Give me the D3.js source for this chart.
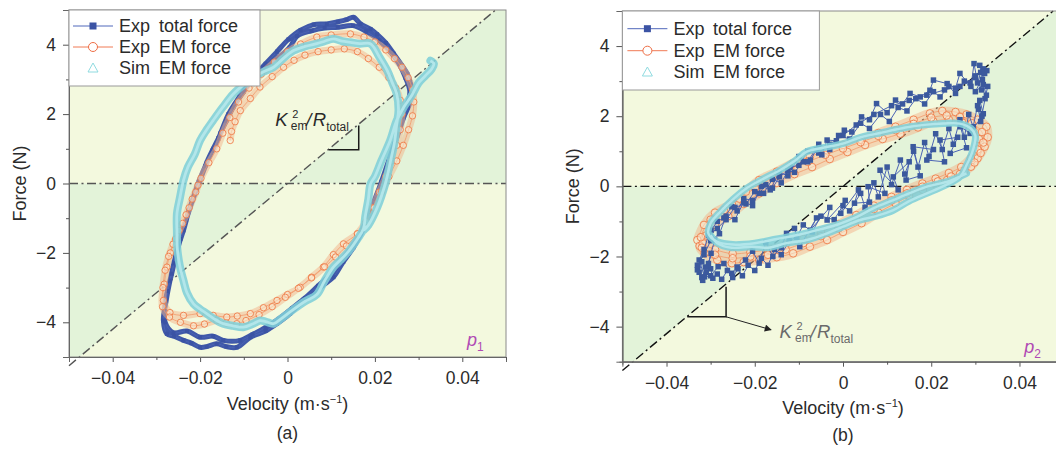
<!DOCTYPE html>
<html><head><meta charset="utf-8">
<script src="https://cdn.jsdelivr.net/npm/d3@7"></script>
<style>body{margin:0;background:#fff}svg{display:block;font-family:"Liberation Sans",Arial,sans-serif}</style>
</head><body><svg id="c" width="1056" height="450"></svg>
<script>
// ---------- data ----------
const xTicks=[-0.04,-0.02,0,0.02,0.04];
const xMinor=[-0.03,-0.01,0.01,0.03,0.05];
const yTicks=[-4,-2,0,2,4];
const yMinor=[-3,-1,1,3];
const seriesNames=["Exp","total force","Exp","EM force","Sim","EM force"];
const slopeKR=105; // slope of the K_em^2/R_total reference line (N per m/s)

// panel (a) : Exp total force [velocity, force]
const totalA=[[-0.0154,1.44],[-0.0140,1.80],[-0.0124,2.20],[-0.0100,2.65],[-0.0078,3.06],[-0.0050,3.45],[-0.0024,3.80],[0.0002,4.15],[0.0030,4.42],[0.0060,4.58],[0.0090,4.60],[0.0115,4.66],[0.0135,4.72],[0.0151,4.79],[0.0167,4.60],[0.0190,4.45],[0.0205,4.30],[0.0225,4.05],[0.0243,3.74],[0.0262,3.40],[0.0274,3.16],[0.0282,2.85],[0.0285,2.58],[0.0278,2.25],[0.0266,1.91],[0.0255,1.50],[0.0243,1.05],[0.0228,0.50],[0.0212,-0.10],[0.0197,-0.60],[0.0182,-1.07],[0.0168,-1.45],[0.0151,-1.84],[0.0128,-2.25],[0.0105,-2.70],[0.0080,-2.95],[0.0060,-3.18],[0.0030,-3.45],[0.0006,-3.75],[-0.0024,-4.04],[-0.0050,-4.25],[-0.0085,-4.43],[-0.0116,-4.72],[-0.0140,-4.70],[-0.0162,-4.62],[-0.0185,-4.70],[-0.0200,-4.72],[-0.0220,-4.60],[-0.0238,-4.52],[-0.0260,-4.40],[-0.0276,-4.33],[-0.0284,-3.95],[-0.0278,-3.40],[-0.0269,-2.80],[-0.0260,-2.30],[-0.0250,-1.80],[-0.0238,-1.35],[-0.0226,-0.80],[-0.0212,-0.30],[-0.0200,0.09],[-0.0185,0.60],[-0.0170,1.00],[-0.0158,1.30],[-0.0135,2.00],[-0.0110,2.50],[-0.0085,2.95],[-0.0055,3.35],[-0.0024,3.60],[0.0005,3.92],[0.0022,4.25],[0.0055,4.40],[0.0085,4.48],[0.0115,4.50],[0.0150,4.55],[0.0180,4.38],[0.0210,4.12],[0.0235,3.80],[0.0255,3.45],[0.0270,3.05],[0.0280,2.65],[0.0272,2.20],[0.0260,1.70],[0.0245,1.15],[0.0230,0.60],[0.0215,0.05],[0.0200,-0.45],[0.0185,-0.95],[0.0170,-1.35],[0.0150,-1.75],[0.0125,-2.20],[0.0100,-2.60],[0.0070,-2.95],[0.0040,-3.30],[0.0010,-3.60],[-0.0020,-3.90],[-0.0050,-4.15],[-0.0080,-4.35],[-0.0108,-4.52],[-0.0147,-4.52],[-0.0170,-4.40],[-0.0200,-4.43],[-0.0230,-4.25],[-0.0261,-4.30],[-0.0280,-4.00],[-0.0282,-3.60],[-0.0275,-3.10],[-0.0265,-2.60],[-0.0256,-2.10],[-0.0245,-1.60],[-0.0232,-1.05],[-0.0218,-0.50],[-0.0203,0.05],[-0.0188,0.50],[-0.0172,0.95],[-0.0158,1.30]];
// panel (a) : Exp EM force
const emA=[[-0.0131,1.24],[-0.0128,1.50],[-0.0120,1.78],[-0.0108,2.10],[-0.0085,2.45],[-0.0063,2.78],[-0.0035,3.08],[-0.0009,3.35],[0.0015,3.55],[0.0040,3.70],[0.0070,3.80],[0.0100,3.85],[0.0130,3.88],[0.0160,3.80],[0.0185,3.60],[0.0210,3.35],[0.0232,3.05],[0.0248,2.75],[0.0258,2.40],[0.0262,2.00],[0.0258,1.55],[0.0250,1.10],[0.0238,0.65],[0.0225,0.20],[0.0210,-0.25],[0.0195,-0.70],[0.0180,-1.10],[0.0160,-1.45],[0.0128,-1.74],[0.0105,-2.05],[0.0082,-2.41],[0.0055,-2.70],[0.0029,-2.99],[0.0000,-3.20],[-0.0024,-3.37],[-0.0055,-3.58],[-0.0085,-3.75],[-0.0115,-3.82],[-0.0139,-3.85],[-0.0170,-3.80],[-0.0200,-3.75],[-0.0238,-3.80],[-0.0269,-3.72],[-0.0284,-3.37],[-0.0282,-2.90],[-0.0276,-2.41],[-0.0268,-2.00],[-0.0256,-1.60],[-0.0240,-1.15],[-0.0225,-0.70],[-0.0210,-0.25],[-0.0198,0.15],[-0.0180,0.60],[-0.0162,1.00],[-0.0148,1.45],[-0.0132,1.90],[-0.0112,2.35],[-0.0088,2.75],[-0.0060,3.15],[-0.0030,3.50],[0.0000,3.80],[0.0030,4.02],[0.0067,4.22],[0.0100,4.28],[0.0144,4.31],[0.0175,4.22],[0.0200,4.08],[0.0225,3.85],[0.0245,3.60],[0.0262,3.35],[0.0276,3.05],[0.0286,2.70],[0.0289,2.35],[0.0286,1.95],[0.0277,1.55],[0.0265,1.10],[0.0250,0.65],[0.0232,0.20],[0.0215,-0.25],[0.0198,-0.70],[0.0180,-1.10],[0.0160,-1.45],[0.0135,-1.80],[0.0110,-2.12],[0.0085,-2.40],[0.0055,-2.72],[0.0025,-3.02],[-0.0005,-3.28],[-0.0035,-3.55],[-0.0065,-3.78],[-0.0095,-3.95],[-0.0116,-4.04],[-0.0140,-4.02],[-0.0162,-3.95],[-0.0190,-4.05],[-0.0215,-4.10],[-0.0245,-4.00],[-0.0270,-3.85],[-0.0286,-3.55],[-0.0285,-3.00],[-0.0280,-2.50],[-0.0272,-2.10],[-0.0262,-1.75],[-0.0248,-1.35],[-0.0232,-0.90],[-0.0218,-0.45],[-0.0205,-0.05]];
// panel (a) : Sim EM force
const simA=[[0.0327,3.54],[0.0335,3.45],[0.0330,3.30],[0.0315,3.10],[0.0300,2.90],[0.0285,2.55],[0.0266,2.20],[0.0250,1.82],[0.0235,1.24],[0.0215,0.66],[0.0200,0.20],[0.0190,-0.01],[0.0185,-0.45],[0.0178,-0.95],[0.0174,-1.30],[0.0160,-1.60],[0.0140,-1.95],[0.0120,-2.22],[0.0105,-2.41],[0.0085,-2.80],[0.0067,-3.20],[0.0040,-3.40],[0.0006,-3.70],[-0.0015,-3.90],[-0.0032,-4.04],[-0.0050,-3.98],[-0.0063,-3.95],[-0.0080,-4.05],[-0.0101,-4.14],[-0.0125,-4.10],[-0.0147,-4.04],[-0.0168,-3.90],[-0.0185,-3.75],[-0.0200,-3.62],[-0.0215,-3.47],[-0.0230,-3.15],[-0.0238,-2.80],[-0.0246,-2.40],[-0.0252,-1.90],[-0.0253,-1.40],[-0.0253,-0.87],[-0.0246,-0.40],[-0.0238,0.09],[-0.0228,0.47],[-0.0212,0.85],[-0.0200,1.24],[-0.0185,1.55],[-0.0170,1.82],[-0.0148,2.20],[-0.0124,2.58],[-0.0100,2.85],[-0.0078,3.06],[-0.0055,3.22],[-0.0032,3.35],[-0.0010,3.60],[0.0014,3.83],[0.0040,3.95],[0.0067,4.03],[0.0085,4.10],[0.0105,4.17],[0.0125,4.10],[0.0144,4.07],[0.0165,4.03],[0.0190,4.03],[0.0210,3.65],[0.0228,3.26],[0.0240,2.90],[0.0250,2.58],[0.0254,2.10],[0.0250,1.72],[0.0245,1.20],[0.0235,0.60],[0.0224,0.00],[0.0205,-0.70],[0.0185,-1.20],[0.0174,-1.35]];

// panel (b) : Exp total force
const totalB=[[-0.0330,-2.38],[-0.0320,-2.60],[-0.0305,-2.20],[-0.0299,-1.91],[-0.0310,-2.45],[-0.0291,-1.53],[-0.0299,-1.25],[-0.0285,-1.00],[-0.0270,-0.90],[-0.0252,-0.58],[-0.0240,-0.70],[-0.0225,-0.35],[-0.0205,-0.40],[-0.0190,-0.20],[-0.0175,0.05],[-0.0160,-0.05],[-0.0144,0.27],[-0.0125,0.45],[-0.0110,0.40],[-0.0090,0.70],[-0.0074,0.75],[-0.0060,1.05],[-0.0048,0.90],[-0.0036,1.32],[-0.0015,1.30],[0.0003,1.60],[0.0020,1.55],[0.0042,1.98],[0.0060,1.90],[0.0076,2.36],[0.0100,2.10],[0.0119,2.46],[0.0135,2.35],[0.0152,2.65],[0.0175,2.55],[0.0197,2.74],[0.0205,3.03],[0.0236,2.93],[0.0255,2.80],[0.0265,3.22],[0.0290,2.85],[0.0297,3.50],[0.0305,2.95],[0.0312,3.25],[0.0321,3.22],[0.0300,2.70],[0.0318,2.90],[0.0325,2.60],[0.0310,2.45],[0.0318,2.07],[0.0307,2.20],[0.0315,2.00],[0.0288,1.51],[0.0266,1.70],[0.0280,1.10],[0.0243,0.94],[0.0260,1.40],[0.0220,1.32],[0.0230,0.70],[0.0190,0.75],[0.0205,1.05],[0.0159,1.13],[0.0175,0.30],[0.0143,0.18],[0.0150,0.70],[0.0114,0.27],[0.0125,-0.10],[0.0084,0.46],[0.0095,-0.20],[0.0057,-0.01],[0.0060,-0.45],[0.0026,-0.48],[0.0035,-0.10],[-0.0005,-0.77],[0.0005,-0.40],[-0.0036,-0.96],[-0.0030,-0.60],[-0.0074,-1.25],[-0.0060,-0.90],[-0.0098,-1.72],[-0.0110,-1.20],[-0.0128,-1.34],[-0.0140,-1.75],[-0.0159,-2.00],[-0.0175,-1.60],[-0.0190,-2.19],[-0.0205,-1.85],[-0.0221,-2.10],[-0.0240,-2.30],[-0.0252,-2.48],[-0.0270,-2.20],[-0.0283,-2.29],[-0.0300,-2.55],[-0.0314,-2.58],[-0.0326,-2.10],[-0.0315,-1.80],[-0.0305,-1.40],[-0.0285,-1.20],[-0.0265,-0.95],[-0.0245,-0.60],[-0.0220,-0.50],[-0.0200,-0.15],[-0.0180,-0.20],[-0.0160,0.20],[-0.0140,0.10],[-0.0120,0.55],[-0.0100,0.60],[-0.0080,1.00],[-0.0055,0.95],[-0.0030,1.20],[0.0000,1.45],[0.0030,1.75],[0.0070,2.05],[0.0110,2.30],[0.0150,2.45],[0.0190,2.60],[0.0230,2.75],[0.0265,2.85],[0.0300,3.10],[0.0318,3.35],[0.0326,3.30],[0.0310,3.45],[0.0316,3.05],[0.0328,2.85],[0.0322,2.50],[0.0312,1.85],[0.0305,2.30],[0.0295,1.70],[0.0285,2.05],[0.0275,1.40],[0.0265,1.90],[0.0250,1.20],[0.0240,1.65],[0.0225,1.05],[0.0210,1.50],[0.0195,0.85],[0.0185,1.25],[0.0170,0.55],[0.0160,1.00],[0.0140,0.35],[0.0130,0.75],[0.0110,0.05],[0.0100,0.55],[0.0080,-0.30],[0.0070,0.10],[0.0050,-0.60],[0.0040,-0.20],[0.0015,-0.70],[0.0000,-0.55],[-0.0020,-0.95],[-0.0050,-0.85],[-0.0070,-1.30],[-0.0090,-1.10],[-0.0105,-1.45],[-0.0122,-1.55],[-0.0140,-1.95],[-0.0155,-1.80],[-0.0170,-2.25],[-0.0185,-2.05],[-0.0200,-2.40],[-0.0215,-2.25],[-0.0228,-2.55],[-0.0238,-2.35],[-0.0250,-2.60],[-0.0262,-2.40],[-0.0275,-2.65],[-0.0285,-2.50],[-0.0295,-2.62],[-0.0300,-2.35],[-0.0312,-2.30],[-0.0318,-2.68],[-0.0326,-2.45],[-0.0320,-2.15],[-0.0330,-2.25],[-0.0315,-1.95],[-0.0300,-1.55],[-0.0280,-1.35],[-0.0265,-0.85],[-0.0245,-0.95],[-0.0225,-0.45],[-0.0205,-0.55],[-0.0185,0.00],[-0.0165,-0.10],[-0.0145,0.40],[-0.0125,0.30],[-0.0100,0.85],[-0.0080,0.70],[-0.0055,1.20],[-0.0030,1.05],[-0.0010,1.45],[0.0015,1.35],[0.0040,1.80],[0.0060,1.65],[0.0085,2.05],[0.0105,1.85],[0.0125,2.25],[0.0145,2.15],[0.0165,2.50],[0.0185,2.35],[0.0205,2.70],[0.0220,2.55],[0.0240,2.85],[0.0255,2.65],[0.0275,3.00],[0.0288,2.95],[0.0300,3.15],[0.0314,2.75]];
// panel (b) : Exp EM force
const emB=[[-0.0330,-1.53],[-0.0315,-1.10],[-0.0290,-0.75],[-0.0252,-0.50],[-0.0220,-0.15],[-0.0190,0.18],[-0.0150,0.42],[-0.0113,0.66],[-0.0075,0.85],[-0.0036,1.03],[0.0000,1.18],[0.0042,1.32],[0.0080,1.52],[0.0119,1.70],[0.0160,1.90],[0.0197,2.08],[0.0225,2.15],[0.0255,2.12],[0.0280,2.05],[0.0305,1.90],[0.0325,1.70],[0.0328,1.40],[0.0321,1.13],[0.0305,0.80],[0.0290,0.56],[0.0265,0.35],[0.0236,0.18],[0.0210,0.05],[0.0181,-0.10],[0.0150,-0.28],[0.0119,-0.48],[0.0080,-0.75],[0.0042,-1.05],[0.0000,-1.30],[-0.0036,-1.53],[-0.0075,-1.72],[-0.0113,-1.91],[-0.0150,-2.02],[-0.0190,-2.10],[-0.0225,-2.16],[-0.0252,-2.19],[-0.0285,-2.10],[-0.0314,-1.91],[-0.0325,-1.70],[-0.0310,-1.40],[-0.0290,-1.10],[-0.0260,-0.85],[-0.0225,-0.50],[-0.0190,-0.20],[-0.0150,0.10],[-0.0110,0.35],[-0.0070,0.55],[-0.0030,0.78],[0.0010,0.98],[0.0050,1.18],[0.0090,1.35],[0.0130,1.50],[0.0170,1.68],[0.0205,1.85],[0.0240,1.90],[0.0270,1.82],[0.0295,1.62],[0.0308,1.35],[0.0305,1.05],[0.0290,0.80],[0.0268,0.55],[0.0240,0.38],[0.0210,0.22],[0.0180,0.08],[0.0145,-0.10],[0.0110,-0.30],[0.0070,-0.55],[0.0030,-0.82],[-0.0010,-1.08],[-0.0050,-1.30],[-0.0090,-1.50],[-0.0130,-1.66],[-0.0170,-1.80],[-0.0210,-1.88],[-0.0250,-1.92],[-0.0290,-1.80],[-0.0318,-1.62],[-0.0322,-1.45],[-0.0300,-0.95],[-0.0270,-0.68],[-0.0235,-0.35],[-0.0200,-0.05],[-0.0160,0.25],[-0.0120,0.50],[-0.0080,0.70],[-0.0040,0.90],[0.0000,1.08],[0.0040,1.26],[0.0080,1.44],[0.0120,1.60],[0.0160,1.78],[0.0200,1.96],[0.0235,2.02],[0.0265,1.98],[0.0292,1.80],[0.0315,1.55],[0.0318,1.25],[0.0312,0.95],[0.0298,0.68],[0.0275,0.45],[0.0245,0.28],[0.0215,0.14],[0.0180,-0.01],[0.0145,-0.20],[0.0110,-0.40],[0.0070,-0.65],[0.0030,-0.95],[-0.0010,-1.20],[-0.0050,-1.42],[-0.0090,-1.62],[-0.0130,-1.80],[-0.0170,-1.95],[-0.0210,-2.00],[-0.0250,-2.05],[-0.0290,-1.95],[-0.0320,-1.75]];
// panel (b) : Sim EM force
const simB=[[0.0280,0.37],[0.0240,0.15],[0.0190,-0.01],[0.0150,-0.20],[0.0114,-0.39],[0.0070,-0.62],[0.0030,-0.88],[-0.0010,-1.08],[-0.0050,-1.22],[-0.0100,-1.38],[-0.0150,-1.50],[-0.0200,-1.62],[-0.0250,-1.66],[-0.0285,-1.58],[-0.0305,-1.35],[-0.0300,-1.05],[-0.0280,-0.75],[-0.0250,-0.38],[-0.0218,-0.05],[-0.0180,0.22],[-0.0143,0.46],[-0.0110,0.72],[-0.0082,0.99],[-0.0045,1.10],[0.0000,1.22],[0.0040,1.40],[0.0084,1.52],[0.0120,1.62],[0.0152,1.70],[0.0190,1.76],[0.0227,1.79],[0.0265,1.79],[0.0290,1.65],[0.0300,1.45],[0.0298,1.20],[0.0292,0.94],[0.0280,0.60],[0.0265,0.27],[0.0230,0.02],[0.0190,-0.20],[0.0150,-0.42],[0.0114,-0.68],[0.0075,-0.85],[0.0039,-0.96],[0.0000,-1.15],[-0.0036,-1.34],[-0.0082,-1.53],[-0.0128,-1.62],[-0.0170,-1.75],[-0.0206,-1.72],[-0.0252,-1.75],[-0.0285,-1.62],[-0.0300,-1.40]];

// annotation anchors (data units)
const triA={v0:0.0094,v1:0.0163,f0:0.97,f1:1.67,label:[-0.0028,1.67]};
const triB={v0:-0.0353,v1:-0.0265,f0:-3.72,f1:-2.86,arrowEnd:[-0.0163,-4.09],label:[-0.0144,-4.33]};

// ---------- layout ----------
const svg=d3.select("#c");
svg.append("rect").attr("width",1056).attr("height",450).attr("fill","#fff");
const defs=svg.append("defs");
defs.append("marker").attr("id","arr").attr("viewBox","0 0 10 10").attr("refX",9).attr("refY",5)
  .attr("markerWidth",9).attr("markerHeight",7).attr("orient","auto").attr("markerUnits","userSpaceOnUse")
  .append("path").attr("d","M0,0L10,5L0,10z").attr("fill","#222");

const panels=[
 {id:"a",x0:69,x1:506,y0:10,y1:357,total:totalA,em:emA,sim:simA,tri:triA,p:"1",cap:"(a)",
  fLab:20,vLabY:410,capY:439,lineCol:"#555",kCol:"#2a2a2a",leg:{w:191,h:76,rows:[16,37,58],sym:[4,44],txt:50,txt2:90},
  blueBand:5,sqSize:4,circR:3.2,orangeBand:7,simW:8,curve:true},
 {id:"b",x0:622.4,x1:1063.6,y0:11,y1:361.7,total:totalB,em:emB,sim:simB,tri:triB,p:"2",cap:"(b)",
  fLab:573,vLabY:414,capY:441,lineCol:"#111",kCol:"#6a6a6a",leg:{w:197,h:79,rows:[17.7,39.7,61],sym:[5,45],txt:51,txt2:90.5},
  blueBand:0,sqSize:5.5,circR:3.8,orangeBand:9,simW:7,curve:false}
];

const fmtX=d=>d===0?"0":d3.format(".2f")(d);
const fmtY=d3.format("d");

panels.forEach(P=>{
 const x=d3.scaleLinear().domain([-0.05,0.05]).range([P.x0,P.x1]);
 const y=d3.scaleLinear().domain([-5,5]).range([P.y1,P.y0]);
 const g=svg.append("g");
 const W=P.x1-P.x0,H=P.y1-P.y0;
 defs.append("clipPath").attr("id","clip"+P.id).append("rect").attr("x",P.x0).attr("y",P.y0).attr("width",W).attr("height",H);
 // background regions
 g.append("rect").attr("x",P.x0).attr("y",P.y0).attr("width",W).attr("height",H).attr("fill","#f3f9de");
 const vTop=5/slopeKR;
 const poly=d3.line().x(d=>x(d[0])).y(d=>y(d[1]));
 const bg=g.append("g").attr("clip-path",`url(#clip${P.id})`);
 bg.append("path").attr("d",poly([[0,0],[vTop,5],[0.05,5],[0.05,0]])+"Z").attr("fill","#e3f3d9");
 bg.append("path").attr("d",poly([[0,0],[-0.05,0],[-0.05,-5],[-vTop,-5]])+"Z").attr("fill","#e3f3d9");
 // reference lines
 g.append("line").attr("x1",x(-0.05)).attr("x2",Math.min(x(0.05),1056)).attr("y1",y(0)).attr("y2",y(0))
  .attr("stroke",P.lineCol).attr("stroke-width",1.4).attr("stroke-dasharray","9,3.5,2,3.5");
 g.append("line").attr("x1",x(-0.05)).attr("y1",y(-0.05*slopeKR)).attr("x2",x(vTop)).attr("y2",y(5))
  .attr("stroke",P.lineCol).attr("stroke-width",1.4).attr("stroke-dasharray","9,3.5,2,3.5");

 const m=g.append("g").attr("clip-path",`url(#clip${P.id})`);
 const ln=d3.line().x(d=>x(d[0])).y(d=>y(d[1]));
 const lnC=d3.line().x(d=>x(d[0])).y(d=>y(d[1])).curve(d3.curveCatmullRom);
 const drawOrange=()=>{
  m.append("path").attr("d",lnC(P.em)).attr("fill","none").attr("stroke","#f4b48a").attr("stroke-width",P.orangeBand).attr("stroke-opacity",0.5).attr("stroke-linejoin","round");
  m.append("path").attr("d",lnC(P.em)).attr("fill","none").attr("stroke","#f29a6c").attr("stroke-width",0.8);
  m.selectAll(".ci").data(P.em).join("circle").attr("cx",d=>x(d[0])).attr("cy",d=>y(d[1])).attr("r",P.circR)
   .attr("fill","#fbf0da").attr("fill-opacity",0.5).attr("stroke","#ee7a45").attr("stroke-width",0.85);
 };
 const drawBlue=()=>{
  if(P.blueBand) m.append("path").attr("d",lnC(P.total)).attr("fill","none").attr("stroke","#4059a9").attr("stroke-width",P.blueBand).attr("stroke-linejoin","round");
  m.append("path").attr("d",(P.curve?lnC:ln)(P.total)).attr("fill","none").attr("stroke","#4a63b4").attr("stroke-width",1);
  m.selectAll(".sq").data(P.total).join("rect").attr("x",d=>x(d[0])-P.sqSize/2).attr("y",d=>y(d[1])-P.sqSize/2)
   .attr("width",P.sqSize).attr("height",P.sqSize).attr("fill",P.id==="a"?"#3b53a4":"#3b599d");
 };
 if(P.id==="a"){drawBlue();drawOrange();}else{drawOrange();drawBlue();}
 // Sim EM force
 m.append("path").attr("d",lnC(P.sim)).attr("fill","none").attr("stroke","#7fcfd8").attr("stroke-width",P.simW).attr("stroke-opacity",0.88).attr("stroke-linejoin","round").attr("stroke-linecap","round");
 m.append("path").attr("d",lnC(P.sim)).attr("fill","none").attr("stroke","#b3e6ea").attr("stroke-width",P.simW*0.35);

 // frame
 g.append("rect").attr("x",P.x0).attr("y",P.y0).attr("width",W).attr("height",H).attr("fill","none").attr("stroke","#8a8a8a").attr("stroke-width",1);
 // axes
 const ax=g.append("g").attr("transform",`translate(0,${P.y1})`).call(d3.axisBottom(x).tickValues(xTicks).tickFormat(fmtX).tickSize(5).tickPadding(10));
 const axm=g.append("g").attr("transform",`translate(0,${P.y1})`).call(d3.axisBottom(x).tickValues(xMinor).tickFormat("").tickSize(3));
 const ay=g.append("g").attr("transform",`translate(${P.x0},0)`).call(d3.axisLeft(y).tickValues(yTicks).tickFormat(fmtY).tickSize(6).tickPadding(7));
 const aym=g.append("g").attr("transform",`translate(${P.x0},0)`).call(d3.axisLeft(y).tickValues(yMinor).tickFormat("").tickSize(3));
 [ax,axm,ay,aym].forEach(a=>{a.select(".domain").attr("stroke","#666");a.selectAll(".tick line").attr("stroke","#555");
   a.selectAll("text").attr("font-size",17.5).attr("fill","#2b2b2b").attr("font-family","Liberation Sans, Arial, sans-serif");});
 // axis titles
 g.append("text").attr("transform",`translate(${P.fLab},${(P.y0+P.y1)/2}) rotate(-90)`).attr("text-anchor","middle").attr("dy","0.35em")
  .attr("font-size",18).attr("fill","#2b2b2b").text("Force (N)");
 const vt=g.append("text").attr("x",x(0)).attr("y",P.vLabY).attr("text-anchor","middle").attr("font-size",18).attr("fill","#2b2b2b");
 vt.append("tspan").text("Velocity (m·s");
 vt.append("tspan").attr("font-size",11).attr("dy",-7).text("−1");
 vt.append("tspan").attr("dy",7).text(")");
 g.append("text").attr("x",x(0)).attr("y",P.capY).attr("text-anchor","middle").attr("font-size",17.5).attr("fill","#2b2b2b").text(P.cap);
 // p label
 const pt=g.append("text").attr("x",x(0.0411)).attr("y",y(P.id==="a"?-4.67:-4.76)).attr("fill","#b04ab4").attr("font-size",18);
 pt.append("tspan").attr("font-style","italic").text("p");
 pt.append("tspan").attr("font-size",12).attr("dy",5).text(P.p);

 // slope triangle
 const T=P.tri;
 g.append("path").attr("d",`M${x(T.v0)},${y(T.f0)}H${x(T.v1)}V${y(T.f1)}`).attr("fill","none").attr("stroke","#1a1a1a").attr("stroke-width",1.5);
 if(T.arrowEnd) g.append("line").attr("x1",x(T.v1)).attr("y1",y(T.f0)).attr("x2",x(T.arrowEnd[0])).attr("y2",y(T.arrowEnd[1]))
   .attr("stroke","#222").attr("stroke-width",1).attr("marker-end","url(#arr)");
 const kx=x(T.label[0]),ky=y(T.label[1]);
 const kg=g.append("g").attr("transform",`translate(${kx},${ky})`).attr("fill",P.kCol);
 kg.append("text").attr("font-size",18.5).attr("font-style","italic").text("K");
 kg.append("text").attr("x",17).attr("y",-8).attr("font-size",11).text("2");
 kg.append("text").attr("x",15.5).attr("y",4).attr("font-size",12).text("em");
 kg.append("text").attr("x",31).attr("font-size",18.5).attr("font-style","italic").text("/");
 kg.append("text").attr("x",37.5).attr("font-size",18.5).attr("font-style","italic").text("R");
 kg.append("text").attr("x",51).attr("y",5).attr("font-size",12).text("total");

 // legend
 const L=P.leg;
 const lg=g.append("g").attr("transform",`translate(${P.x0},${P.y0})`);
 lg.append("rect").attr("width",L.w).attr("height",L.h).attr("fill","#fff").attr("stroke","#999").attr("stroke-width",1);
 const r0=L.rows[0],r1=L.rows[1],r2=L.rows[2],cx=(L.sym[0]+L.sym[1])/2;
 lg.append("line").attr("x1",L.sym[0]).attr("x2",L.sym[1]).attr("y1",r0).attr("y2",r0).attr("stroke","#5068bb").attr("stroke-width",1);
 lg.append("rect").attr("x",cx-3.5).attr("y",r0-3.5).attr("width",7).attr("height",7).attr("fill","#3b53a4");
 lg.append("line").attr("x1",L.sym[0]).attr("x2",L.sym[1]).attr("y1",r1).attr("y2",r1).attr("stroke","#f07a55").attr("stroke-width",1);
 lg.append("circle").attr("cx",cx).attr("cy",r1).attr("r",4.5).attr("fill","#fff").attr("stroke","#ee6e45").attr("stroke-width",1);
 lg.append("path").attr("d",`M${cx},${r2-5}L${cx+5},${r2+4}L${cx-5},${r2+4}Z`).attr("fill","none").attr("stroke","#8fdbe0").attr("stroke-width",1);
 [[r0,0],[r1,2],[r2,4]].forEach(([ry,k])=>{
   lg.append("text").attr("x",L.txt).attr("y",ry).attr("dy","0.36em").attr("font-size",18).attr("fill","#2b2b2b").text(seriesNames[k]);
   lg.append("text").attr("x",L.txt2).attr("y",ry).attr("dy","0.36em").attr("font-size",18).attr("fill","#2b2b2b").text(seriesNames[k+1]);
 });
});
</script></body></html>
